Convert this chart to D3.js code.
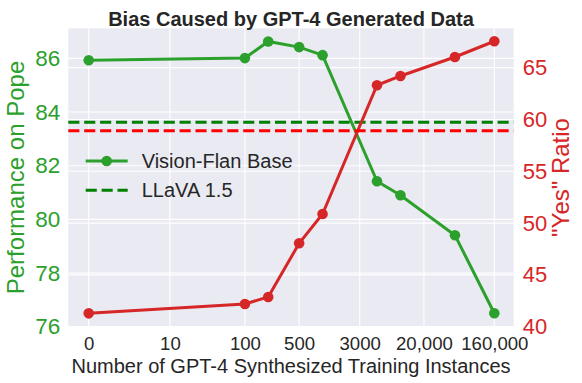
<!DOCTYPE html>
<html>
<head>
<meta charset="utf-8">
<script src="https://cdn.jsdelivr.net/npm/d3@7"></script>
<style>
  body { margin: 0; background: #fff; }
  svg { display: block; font-family: "Liberation Sans", Arial, sans-serif; }
</style>
</head>
<body>
<div id="chart"></div>
<script>
// data
const instances = [0, 100, 200, 500, 1000, 5000, 10000, 50000, 160000];
const popePerf = [85.93, 86.01, 86.63, 86.42, 86.12, 81.42, 80.90, 79.41, 76.50];
const yesRatio = [41.29, 42.19, 42.87, 48.05, 50.88, 63.30, 64.20, 66.03, 67.55];
const llavaPerf = 83.62;
const llavaYes = 58.92;
const xTicks = [0, 10, 100, 500, 3000, 20000, 160000];
const xTickLabels = ["0", "10", "100", "500", "3000", "20,000", "160,000"];
const leftTicks = [76, 78, 80, 82, 84, 86];
const rightTicks = [40, 45, 50, 55, 60, 65];

const W = 582, H = 383;
const box = { left: 68.3, right: 513.7, top: 28.3, bottom: 326.7 };
const green = "#2ca02c", red = "#d62728", ink = "#262626";

const svg = d3.select("#chart").append("svg").attr("width", W).attr("height", H);

// x is log of (n + 1) so zero fits on the axis
const x = d3.scaleLog().domain([0.547, 283800]).range([box.left, box.right]);
const xp = v => x(v + 1);
const yL = d3.scaleLinear().domain([76, 87.12]).range([box.bottom, box.top]);
const yR = d3.scaleLinear().domain([40, 68.8]).range([box.bottom, box.top]);

svg.append("rect")
  .attr("x", box.left).attr("y", box.top)
  .attr("width", box.right - box.left).attr("height", box.bottom - box.top)
  .attr("fill", "#eaeaf2");

// grids
const grid = svg.append("g").attr("stroke", "#fff").attr("stroke-width", 1.1);
grid.selectAll(".gx").data(xTicks).join("line")
  .attr("x1", d => xp(d)).attr("x2", d => xp(d))
  .attr("y1", box.top).attr("y2", box.bottom);
grid.selectAll(".gl").data(leftTicks).join("line")
  .attr("x1", box.left).attr("x2", box.right)
  .attr("y1", d => yL(d)).attr("y2", d => yL(d));
grid.selectAll(".gr").data(rightTicks).join("line")
  .attr("x1", box.left).attr("x2", box.right)
  .attr("y1", d => yR(d)).attr("y2", d => yR(d));

// axes (no tick marks, seaborn darkgrid look)
const xAxis = svg.append("g")
  .attr("transform", `translate(0,${box.bottom})`)
  .call(d3.axisBottom(x).tickValues(xTicks.map(v => v + 1))
    .tickFormat((d, i) => xTickLabels[i]).tickSize(0).tickPadding(10));
xAxis.select(".domain").remove();
xAxis.selectAll("text").attr("font-size", 18.6).attr("fill", ink)
  .attr("font-family", "Liberation Sans, Arial, sans-serif");

const lAxis = svg.append("g")
  .attr("transform", `translate(${box.left},0)`)
  .call(d3.axisLeft(yL).tickValues(leftTicks).tickSize(0).tickPadding(8));
lAxis.select(".domain").remove();
lAxis.selectAll("text").attr("font-size", 22.5).attr("fill", green)
  .attr("font-family", "Liberation Sans, Arial, sans-serif");

const rAxis = svg.append("g")
  .attr("transform", `translate(${box.right},0)`)
  .call(d3.axisRight(yR).tickValues(rightTicks).tickSize(0).tickPadding(9));
rAxis.select(".domain").remove();
rAxis.selectAll("text").attr("font-size", 22).attr("fill", red)
  .attr("font-family", "Liberation Sans, Arial, sans-serif");

// lines
const perfLine = d3.line().x((d, i) => xp(instances[i])).y(d => yL(d));
const yesLine = d3.line().x((d, i) => xp(instances[i])).y(d => yR(d));

svg.append("path").datum(popePerf).attr("d", perfLine)
  .attr("fill", "none").attr("stroke", green).attr("stroke-width", 3);
svg.selectAll(".pg").data(popePerf).join("circle")
  .attr("cx", (d, i) => xp(instances[i])).attr("cy", d => yL(d))
  .attr("r", 5.3).attr("fill", green);

svg.append("line")
  .attr("x1", box.left).attr("x2", box.right)
  .attr("y1", yL(llavaPerf)).attr("y2", yL(llavaPerf))
  .attr("stroke", "#008000").attr("stroke-width", 3).attr("stroke-dasharray", "11.1,4.8");

svg.append("path").datum(yesRatio).attr("d", yesLine)
  .attr("fill", "none").attr("stroke", red).attr("stroke-width", 3);
svg.selectAll(".pr").data(yesRatio).join("circle")
  .attr("cx", (d, i) => xp(instances[i])).attr("cy", d => yR(d))
  .attr("r", 5.3).attr("fill", red);

svg.append("line")
  .attr("x1", box.left).attr("x2", box.right)
  .attr("y1", yR(llavaYes)).attr("y2", yR(llavaYes))
  .attr("stroke", "#ff0000").attr("stroke-width", 3).attr("stroke-dasharray", "11.1,4.8");

// legend
const leg = svg.append("g");
leg.append("line").attr("x1", 85.7).attr("x2", 127.7).attr("y1", 161).attr("y2", 161)
  .attr("stroke", green).attr("stroke-width", 3);
leg.append("circle").attr("cx", 106.7).attr("cy", 161).attr("r", 5.3).attr("fill", green);
leg.append("line").attr("x1", 85.7).attr("x2", 127.7).attr("y1", 190.3).attr("y2", 190.3)
  .attr("stroke", "#008000").attr("stroke-width", 3).attr("stroke-dasharray", "11.1,4.8");
leg.append("text").attr("x", 141.7).attr("y", 161).attr("dy", "0.35em")
  .attr("font-size", 20).attr("fill", ink).text("Vision-Flan Base");
leg.append("text").attr("x", 141.7).attr("y", 190.3).attr("dy", "0.35em")
  .attr("font-size", 20).attr("fill", ink).text("LLaVA 1.5");

// titles
svg.append("text").attr("x", (box.left + box.right) / 2).attr("y", 25.5)
  .attr("text-anchor", "middle").attr("font-size", 20).attr("font-weight", "bold")
  .attr("fill", ink).text("Bias Caused by GPT-4 Generated Data");
svg.append("text").attr("x", (box.left + box.right) / 2).attr("y", 373)
  .attr("text-anchor", "middle").attr("font-size", 20).attr("fill", ink)
  .text("Number of GPT-4 Synthesized Training Instances");
svg.append("text")
  .attr("transform", `translate(24,${(box.top + box.bottom) / 2}) rotate(-90)`)
  .attr("text-anchor", "middle").attr("font-size", 24).attr("fill", green)
  .text("Performance on Pope");
svg.append("text")
  .attr("transform", `translate(569,${(box.top + box.bottom) / 2}) rotate(-90)`)
  .attr("text-anchor", "middle").attr("font-size", 24).attr("fill", red)
  .text("\"Yes\" Ratio");
</script>
</body>
</html>
